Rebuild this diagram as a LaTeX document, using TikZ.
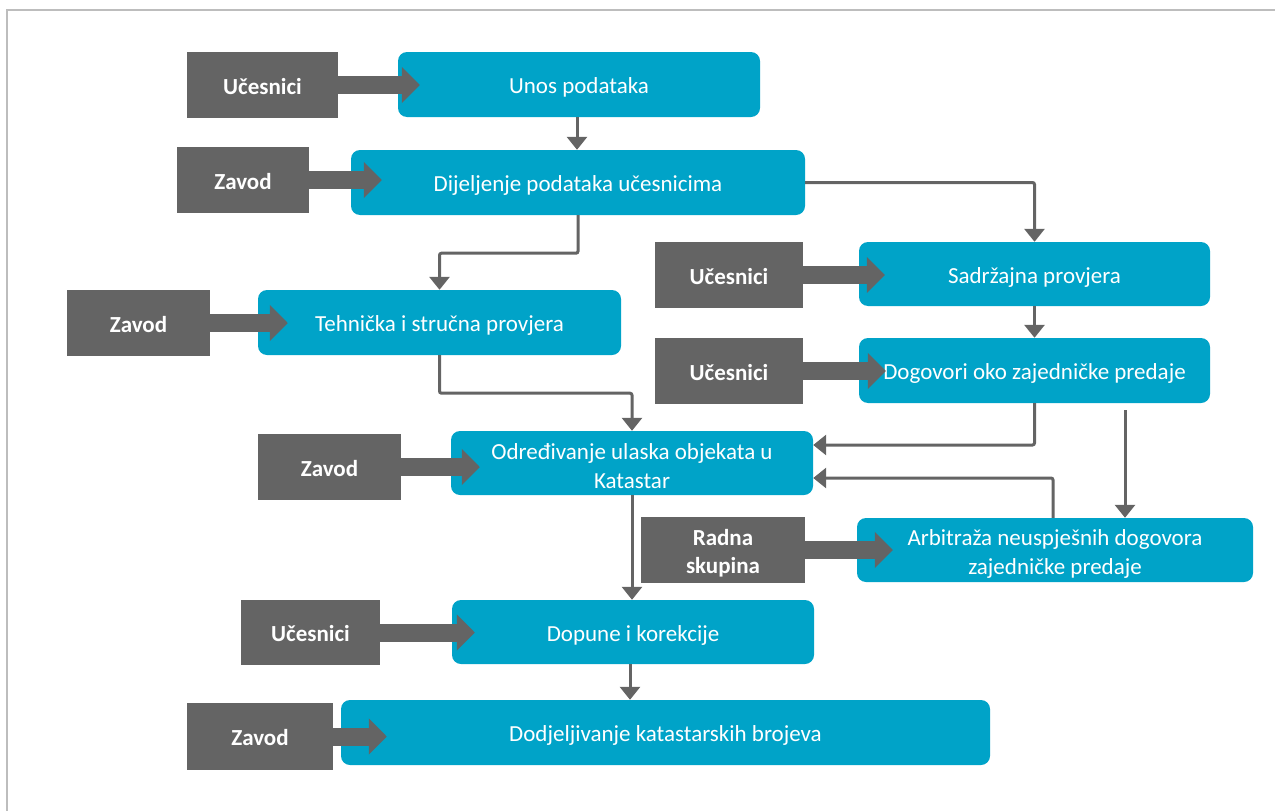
\documentclass[tikz,border=0pt]{standalone}
\usepackage{fontspec}
\setmainfont{Carlito}
\usetikzlibrary{arrows.meta,calc}
\definecolor{boxblue}{HTML}{00A3C8}
\definecolor{boxgray}{HTML}{646464}
\definecolor{framegray}{HTML}{BDBDBD}
\newcommand{\topstrut}{\rule{0pt}{23pt}}
\begin{document}
\begin{tikzpicture}[x=1pt,y=-1pt,
  onel/.style={text height=23pt,text depth=4.4pt},
  bluebox/.style={fill=boxblue,rounded corners=9pt,text=white,align=center,
    inner sep=0pt,font=\fontsize{23}{29}\selectfont},
  graybox/.style={fill=boxgray,text=white,align=center,inner sep=0pt,
    font=\fontsize{23}{28}\selectfont\bfseries},
  bigarrow/.style={draw=boxgray,line width=18pt,line cap=butt,
    -{Triangle[width=35pt,length=18pt]}},
  conn/.style={draw=boxgray,line width=3pt,rounded corners=2pt,
    -{Triangle[width=20pt,length=13pt]}}]
\useasboundingbox (0,0) rectangle (1275,811);
\draw[framegray,line width=2pt] (7,811) -- (7,9.5) -- (1275,9.5);

% blue process boxes
\node[bluebox,onel,minimum width=362pt,minimum height=65pt] (b1) at (579,84.5) {Unos podataka};
\node[bluebox,onel,minimum width=454pt,minimum height=65pt] (b2) at (578,182.5) {Dijeljenje podataka učesnicima};
\node[bluebox,onel,minimum width=351pt,minimum height=64pt] (b3) at (1034.5,274) {Sadržajna provjera};
\node[bluebox,onel,minimum width=363pt,minimum height=65pt] (b4) at (439.5,322.5) {Tehnička i stručna provjera};
\node[bluebox,onel,minimum width=351pt,minimum height=65pt] (b5) at (1034.5,370.5) {Dogovori oko zajedničke predaje};
\node[bluebox,minimum width=362pt,minimum height=64pt] (b6) at (632,463) {\topstrut Određivanje ulaska objekata u\\Katastar};
\node[bluebox,minimum width=396pt,minimum height=64pt] (b7) at (1055,550) {\topstrut Arbitraža neuspješnih dogovora\\zajedničke predaje};
\node[bluebox,onel,minimum width=362pt,minimum height=64pt] (b8) at (633,632) {Dopune i korekcije};
\node[bluebox,onel,minimum width=649pt,minimum height=65pt] (b9) at (665.5,732.5) {Dodjeljivanje katastarskih brojeva};

% gray actor boxes
\node[graybox,onel,minimum width=151pt,minimum height=66pt] (g1) at (262.5,85) {Učesnici};
\node[graybox,onel,minimum width=132pt,minimum height=66pt] (g2) at (243,180) {Zavod};
\node[graybox,onel,minimum width=148pt,minimum height=66pt] (g3) at (729,275) {Učesnici};
\node[graybox,onel,minimum width=143pt,minimum height=66pt] (g4) at (138.5,323) {Zavod};
\node[graybox,onel,minimum width=148pt,minimum height=66pt] (g5) at (729,371) {Učesnici};
\node[graybox,onel,minimum width=143pt,minimum height=66pt] (g6) at (329.5,467) {Zavod};
\node[graybox,minimum width=164pt,minimum height=66pt] (g7) at (723,550) {\topstrut Radna\\skupina};
\node[graybox,onel,minimum width=139pt,minimum height=65pt] (g8) at (310.5,632.5) {Učesnici};
\node[graybox,onel,minimum width=146pt,minimum height=67pt] (g9) at (260,736.5) {Zavod};

% thick actor arrows
\draw[bigarrow] (g1.east) -- ($(g1.east -| b1.west)+(22,0)$);
\draw[bigarrow] (g2.east) -- ($(g2.east -| b2.west)+(31,0)$);
\draw[bigarrow] (g3.east) -- ($(g3.east -| b3.west)+(26,0)$);
\draw[bigarrow] (g4.east) -- ($(g4.east -| b4.west)+(30,0)$);
\draw[bigarrow] (g5.east) -- ($(g5.east -| b5.west)+(27,0)$);
\draw[bigarrow] (g6.east) -- ($(g6.east -| b6.west)+(29,0)$);
\draw[bigarrow] (g7.east) -- ($(g7.east -| b7.west)+(36,0)$);
\draw[bigarrow] (g8.east) -- ($(g8.east -| b8.west)+(23,0)$);
\draw[bigarrow] (g9.east) -- ($(g9.east -| b9.west)+(46,0)$);

% connectors
\coordinate (d1) at (1125,410);
\draw[conn] ([xshift=-2pt]b1.south) -- ([xshift=-2pt]b1.south |- b2.north);
\draw[conn] (b2.east) -| (b3.north);
\draw[conn] (b2.south) -- ++(0,38) -| (b4.north);
\draw[conn] (b3.south) -- (b5.north);
\draw[conn] (b4.south) -- ++(0,38) -| (b6.north);
\draw[conn] (b5.south) |- ([yshift=18pt]b6.east);
\draw[conn] (d1) -- (d1 |- b7.north);
\draw[conn] ([xshift=-2pt]b7.north) |- ([yshift=-15pt]b6.east);
\draw[conn] (b6.south) -- (b6.south |- b8.north);
\draw[conn] ([xshift=-3pt]b8.south) -- ([xshift=-3pt]b8.south |- b9.north);
\end{tikzpicture}
\end{document}
